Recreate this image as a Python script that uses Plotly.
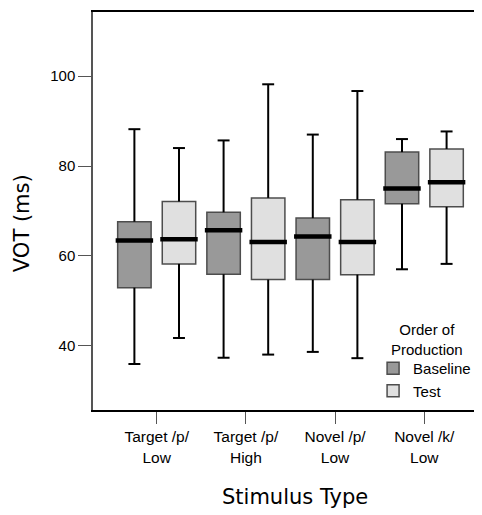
import plotly.graph_objects as go

categories = ["Target /p/<br>Low", "Target /p/<br>High", "Novel /p/<br>Low", "Novel /k/<br>Low"]
groups = ["Baseline", "Test"]

baseline_lower = [35.9, 37.3, 38.6, 57.0]
baseline_q1 = [52.9, 55.9, 54.7, 71.6]
baseline_median = [63.4, 65.7, 64.3, 75.0]
baseline_q3 = [67.6, 69.7, 68.4, 83.1]
baseline_upper = [88.2, 85.7, 87.0, 86.0]

test_lower = [41.7, 38.0, 37.2, 58.2]
test_q1 = [58.2, 54.7, 55.8, 70.9]
test_median = [63.7, 63.1, 63.1, 76.4]
test_q3 = [72.1, 72.9, 72.5, 83.8]
test_upper = [84.0, 98.2, 96.7, 87.7]

y_ticks = [40, 60, 80, 100]

series = [
    ("Baseline", -0.25, "#999999", baseline_lower, baseline_q1, baseline_median, baseline_q3, baseline_upper),
    ("Test", 0.25, "#e0e0e0", test_lower, test_q1, test_median, test_q3, test_upper),
]

BOX_W = 0.375
CAP_HW = 0.067
MED_HW = 0.21

fig = go.Figure()

for name, off, color, lo, q1, med, q3, up in series:
    xs = [i + off for i in range(len(categories))]
    # whiskers
    wx, wy = [], []
    for x, a, b, c, d in zip(xs, lo, q1, q3, up):
        wx += [x, x, None, x, x, None, x - CAP_HW, x + CAP_HW, None, x - CAP_HW, x + CAP_HW, None]
        wy += [a, b, None, c, d, None, a, a, None, d, d, None]
    fig.add_trace(go.Scatter(x=wx, y=wy, mode="lines", line=dict(color="black", width=2),
                             showlegend=False, hoverinfo="skip"))
    # box
    fig.add_trace(go.Bar(x=xs, y=[c - b for b, c in zip(q1, q3)], base=q1, width=BOX_W,
                         marker=dict(color=color, line=dict(color="#4d4d4d", width=1.5)),
                         name=name, showlegend=True))
    # median
    mx, my = [], []
    for x, m in zip(xs, med):
        mx += [x - MED_HW, x + MED_HW, None]
        my += [m, m, None]
    fig.add_trace(go.Scatter(x=mx, y=my, mode="lines", line=dict(color="black", width=4.5),
                             showlegend=False, hoverinfo="skip"))

fig.update_layout(
    width=474, height=507,
    margin=dict(l=85, r=0, t=4, b=105),
    plot_bgcolor="white", paper_bgcolor="white",
    barmode="overlay",
    font=dict(family="Liberation Sans, Arial, sans-serif", size=15, color="black"),
    xaxis=dict(range=[-0.714, 3.647], tickmode="array", tickvals=list(range(len(categories))),
               ticktext=categories, ticks="outside", ticklen=12, tickcolor="#555555",
               showline=True, linecolor="black", linewidth=1.5, mirror=True,
               showgrid=False, zeroline=False, tickfont=dict(size=15.5)),
    yaxis=dict(range=[25.66, 114.3], tickmode="array", tickvals=y_ticks,
               ticks="outside", ticklen=13, tickcolor="#555555",
               showline=True, linecolor="#555555", linewidth=1.5,
               showgrid=False, zeroline=False, tickfont=dict(size=15)),
    legend=dict(x=0.72, xanchor="left", y=0.146, yanchor="top",
                bgcolor="rgba(0,0,0,0)", font=dict(size=15), tracegroupgap=0,
                itemwidth=30),
    annotations=[
        dict(text="Order of<br>Production", xref="paper", yref="paper", x=0.859, y=0.177,
             xanchor="center", yanchor="middle", align="center", showarrow=False,
             font=dict(size=15)),
        dict(text="VOT (ms)", xref="paper", yref="paper", x=-0.182, y=0.47,
             xanchor="center", yanchor="middle", textangle=-90, showarrow=False,
             font=dict(family="DejaVu Sans", size=21)),
        dict(text="Stimulus Type", xref="paper", yref="paper", x=0.52, y=-0.218,
             xanchor="center", yanchor="middle", showarrow=False,
             font=dict(family="DejaVu Sans", size=21)),
    ],
)

fig.write_html("out.html")
